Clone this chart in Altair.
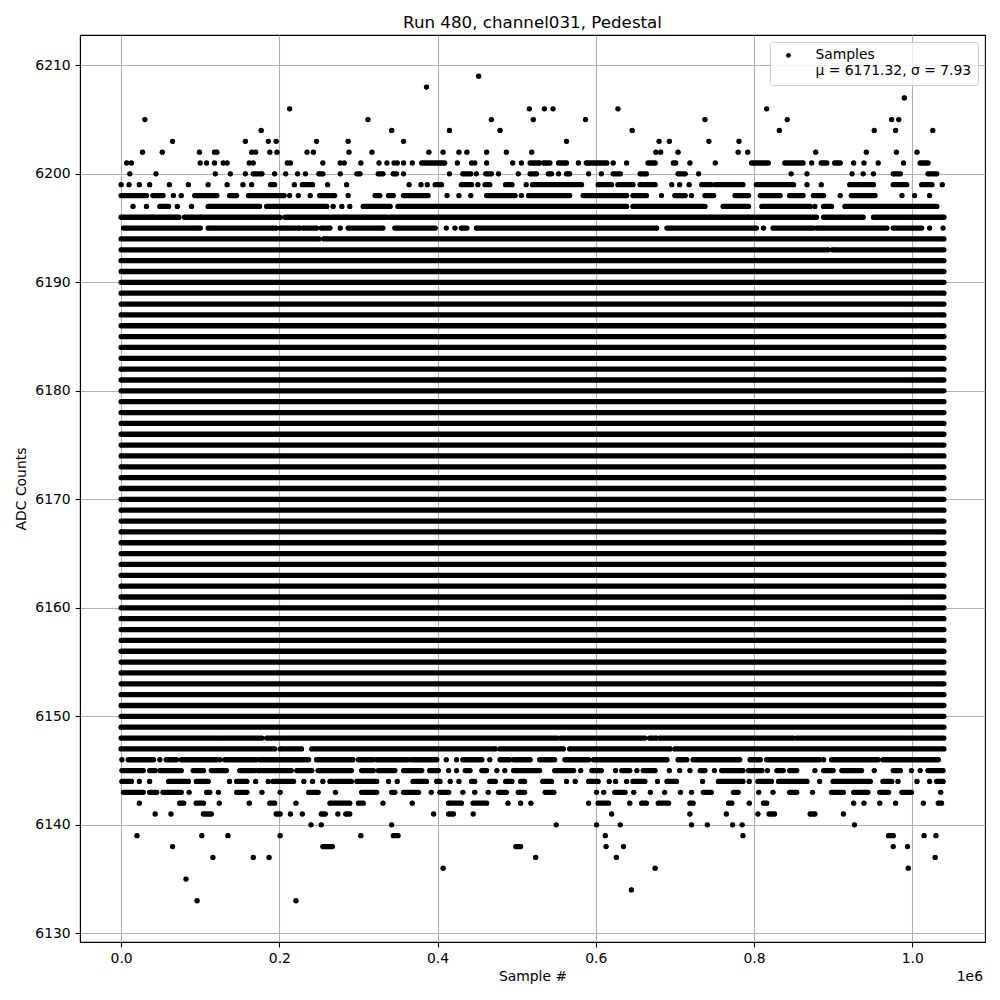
import altair as alt
import pandas as pd

TITLE = "Run 480, channel031, Pedestal"
X_TITLE = "Sample #"
Y_TITLE = "ADC Counts"
OFFSET_TEXT = "1e6"
LEGEND_NAME = "Samples"
LEGEND_STATS = "μ = 6171.32, σ = 7.93"
X_TICKS = [0.0, 0.2, 0.4, 0.6, 0.8, 1.0]
Y_TICKS = [6130, 6140, 6150, 6160, 6170, 6180, 6190, 6200, 6210]
X_DOMAIN = [-0.052, 1.092]
Y_DOMAIN = [6129.2, 6212.8]

# sample index range (thousands of samples)
RUN_START_K = 0
RUN_END_K = 1040

# ADC levels that are hit continuously over the whole run
SOLID_LEVELS = [6149, 6150, 6151, 6152, 6153, 6154, 6155, 6156, 6157, 6158,
                6159, 6160, 6161, 6162, 6163, 6164, 6165, 6166, 6167, 6168,
                6169, 6170, 6171, 6172, 6173, 6174, 6175, 6176, 6177, 6178,
                6179, 6180, 6181, 6182, 6183, 6184, 6185, 6186, 6187, 6188,
                6189, 6190, 6191, 6192]

# sparse levels: sample positions in thousands; (a, b) = continuous run of samples
L6209 = [452]
L6208 = [386]
L6207 = [990]
L6206 = [213, 516, 535, 546, 628, 816]
L6205 = [30, 312, 468, 521, 587, 738, 842, 974, 983]
L6204 = [177, 342, 415, 479, 646, 832, 952, 979, 1026]
L6203 = [65, 157, 186, 196, 247, 287, 357, 563, 680, 693, 743, 781]
L6202 = [27, 52, 99, 118, 121, 165, 170, 188, 197, 235, 243, 288, 317, 389, 407,
         427, 437, 462, 487, 519, 676, 682, 704, 780, 792, 878, 942, 980, 1006]
L6201 = [7, 13, 100, 108, 118, 129, 134, 162, 167, 210, 214, 255, 277, 282, 303,
         326, 336, 345, 349, 357, 368, (380, 409), 425, 443, 447, 462, 495, 506,
         (517, 529), (534, 542), (553, 563), 578, (588, 614), 622, 639, (666, 675),
         (698, 701), 719, 751, (797, 818), (839, 862), 873, (885, 892), (902, 909),
         926, 939, 957, 989, (1010, 1020)]
L6200 = [11, 44, 119, 138, 157, (167, 178), 194, 208, 223, 233, (250, 255), 277,
         (298, 302), (325, 331), (344, 348), 357, 415, (432, 442), 449, (461, 468),
         477, 502, (517, 525), (540, 544), 553, (563, 567), 591, 607, (622, 631),
         (656, 664), (704, 713), 730, 847, 867, 924, 938, 951, (976, 985), (1020, 1031)]
L6199 = [0, 10, 23, 36, 61, 85, 110, 134, 154, 165, (189, 194), 219, (229, 242),
         261, 285, 364, 379, 387, (397, 405), (430, 443), 451, (460, 466), (486, 494),
         512, (520, 582), (603, 620), (628, 647), (656, 675), 696, 706, 718,
         (734, 746), (751, 786), (803, 850), 867, 885, (921, 951), (976, 993),
         (1012, 1025), 1038]
L6198 = [(0, 32), (40, 53), 66, 76, (93, 121), (137, 146), (161, 206), 213, 224, 239,
         (251, 270), 287, (321, 327), (338, 344), (357, 388), 412, 427, 442,
         (462, 498), 506, (515, 567), (584, 639), (647, 664), 683, (700, 713), 721,
         (738, 749), (776, 793), (808, 833), (845, 862), (875, 888), 909,
         (923, 953), 987, 1003, 1022]
L6197 = [15, 32, (49, 60), 71, 89, (110, 175), (184, 260), 268, 279, 289, (306, 340),
         (350, 639), (647, 738), (761, 793), (810, 871), 877, (888, 898), (915, 1031)]
L6196 = [(0, 73), (80, 201), (207, 336), (340, 879), (888, 938), (951, 1040)]
L6195 = [(3, 100), (110, 196), (201, 226), (230, 247), (253, 264), 277, (287, 331),
         (346, 397), 411, 422, (430, 437), (449, 677), (690, 803), 812, (824, 875),
         (879, 968), (976, 1012), 1022, 1039]
L6194 = [(0, 250), (256, 1040)]
L6193 = [(0, 894), (899, 1040)]
L6148 = [(0, 127), (130, 178), (184, 551), (555, 662), (668, 677), (681, 850), (854, 1040)]
L6147 = [(0, 194), (201, 228), (241, 473), (479, 559), (567, 694), (700, 1040)]
L6146 = [1, (9, 41), 49, (57, 70), (76, 121), 125, (131, 171), (175, 237), (247, 293),
         (300, 319), (323, 363), (367, 399), 411, 424, (432, 456), 466, (479, 491),
         (496, 517), (529, 548), (561, 591), (597, 690), (704, 715), (723, 782),
         (795, 808), (816, 883), 888, (898, 957), (963, 1033)]
L6145 = [(1, 28), (36, 43), (49, 76), (91, 104), (114, 133), (150, 169), (173, 215),
         (222, 241), (249, 291), (304, 319), (325, 346), (357, 380), (390, 401), 414,
         424, (435, 441), (456, 462), 475, 485, (496, 529), (548, 572), 581,
         (595, 607), 625, (633, 643), 652, (660, 675), 693, 706, 719, (732, 738),
         750, (759, 786), (793, 810), 817, (829, 837), (845, 854), 877, (888, 900),
         (911, 936), 952, (976, 985), 999, 1010, (1020, 1039)]
L6144 = [(1, 13), 23, 36, (60, 85), (95, 110), 137, (146, 159), 170, 186, (192, 218),
         231, 242, 255, (264, 291), (298, 323), 338, 349, (369, 386), (399, 403), 416,
         427, (443, 447), (466, 473), (486, 494), (505, 510), (533, 544), 563, 574,
         (591, 603), 617, 625, 639, (647, 662), 678, (690, 702), 735, (755, 786), 794,
         (805, 822), (831, 867), 883, (900, 947), (963, 974), 982, 1006, 1022,
         (1031, 1039)]
L6143 = [(3, 28), (36, 45), (53, 76), 86, (108, 112), 123, (146, 159), 178, 201,
         (237, 249), 271, (304, 323), (342, 346), (357, 376), 392, (403, 414), 432,
         447, 464, (477, 487), (502, 510), (536, 547), 601, 610, (624, 637), 648, 669,
         687, 707, 721, (736, 746), (774, 780), 806, 824, (845, 854), 874, (898, 913),
         (926, 944), (959, 970), (987, 999), 1036]
L6142 = [23, (74, 79), (95, 104), 124, 162, (188, 194), 221, (264, 289), (300, 306),
         331, 368, (414, 430), (445, 462), 489, 505, 518, 591, (603, 616), 643,
         (658, 664), (679, 692), (719, 723), (768, 772), 794, (812, 816), 926, 939,
         959, 979, 1014, (1033, 1037)]
L6141 = [43, 63, (104, 114), (196, 201), 214, 229, (253, 258), 274, (284, 289), 395,
         (414, 420), 445, 620, 719, 765, 805, (819, 826), (871, 877), 913]
L6140 = [240, 253, 342, 550, 601, 631, 721, 741, 773, 785, 927]
L6139 = [20, 102, 135, 201, 303, (344, 350), 612, 786, (970, 976), 1015, 1030]
L6138 = [65, (255, 267), (499, 505), 613, 635, 976, 994]
L6137 = [116, 167, 187, 524, 626, 1029]
L6136 = [407, 675, 995]
L6135 = [82]
L6134 = [645]
L6133 = [96, 221]

SPARSE_LEVELS = [
    (6209, L6209), (6208, L6208), (6207, L6207), (6206, L6206), (6205, L6205),
    (6204, L6204), (6203, L6203), (6202, L6202), (6201, L6201), (6200, L6200),
    (6199, L6199), (6198, L6198), (6197, L6197), (6196, L6196), (6195, L6195),
    (6194, L6194), (6193, L6193), (6148, L6148), (6147, L6147), (6146, L6146),
    (6145, L6145), (6144, L6144), (6143, L6143), (6142, L6142), (6141, L6141),
    (6140, L6140), (6139, L6139), (6138, L6138), (6137, L6137), (6136, L6136),
    (6135, L6135), (6134, L6134), (6133, L6133),
]

rows = []
for lvl in SOLID_LEVELS:
    rows.append((lvl, RUN_START_K, RUN_END_K))
for lvl, items in SPARSE_LEVELS:
    for it in items:
        if isinstance(it, tuple):
            rows.append((lvl, it[0], it[1]))
        else:
            rows.append((lvl, it, it))

seg = pd.DataFrame(rows, columns=["level", "k0", "k1"])
seg["x0"] = seg["k0"] / 1000.0
seg["x1"] = seg["k1"] / 1000.0

ends = pd.concat([
    seg[["level", "x0"]].rename(columns={"x0": "x"}),
    seg[["level", "x1"]].rename(columns={"x1": "x"}),
]).drop_duplicates().reset_index(drop=True)
ends["series"] = LEGEND_NAME

FONT = "DejaVu Sans"

xs = alt.Scale(domain=X_DOMAIN, nice=False, zero=False)
ys = alt.Scale(domain=Y_DOMAIN, nice=False, zero=False)

x_axis = alt.Axis(values=X_TICKS, format=".1f", title=X_TITLE, grid=True,
                  titlePadding=4)
y_axis = alt.Axis(values=Y_TICKS, format="d", title=Y_TITLE, grid=True,
                  titlePadding=6)

rules = alt.Chart(seg).mark_rule(
    strokeWidth=5.3, strokeCap="round", color="black"
).encode(
    x=alt.X("x0:Q", scale=xs, axis=x_axis),
    x2="x1:Q",
    y=alt.Y("level:Q", scale=ys, axis=y_axis),
)

legend_expr = "['" + LEGEND_NAME + "', '" + LEGEND_STATS + "']"

dots = alt.Chart(ends).mark_circle(size=22, opacity=1).encode(
    x=alt.X("x:Q", scale=xs),
    y=alt.Y("level:Q", scale=ys),
    color=alt.Color(
        "series:N",
        scale=alt.Scale(range=["black"]),
        legend=alt.Legend(
            title=None,
            orient="top-right",
            offset=7,
            padding=6.5,
            fillColor="rgba(255,255,255,0.8)",
            strokeColor="#cccccc",
            cornerRadius=3,
            symbolType="circle",
            symbolSize=22,
            symbolOffset=5,
            labelOffset=20,
            labelFont=FONT,
            labelFontSize=13.9,
            labelColor="black",
            labelLimit=400,
            labelExpr=legend_expr,
        ),
    ),
)

offset_text = alt.Chart(pd.DataFrame({"t": [OFFSET_TEXT]})).mark_text(
    align="right", baseline="alphabetic", font=FONT, fontSize=13.9, color="black"
).encode(
    x=alt.value(903),
    y=alt.value(945.5),
    text="t:N",
)

chart = alt.layer(rules, dots, offset_text).properties(
    width=905,
    height=907,
    title=alt.TitleParams(
        TITLE, font=FONT, fontSize=16.7, fontWeight="normal", color="black",
        anchor="middle", frame="group", baseline="alphabetic", offset=8, dy=18,
    ),
    padding={"left": 72, "top": 27, "right": 5, "bottom": 44},
    autosize=alt.AutoSizeParams(type="none"),
).configure_view(
    stroke="black", strokeWidth=1.1
).configure_axis(
    labelFont=FONT, labelFontSize=13.9, labelColor="black", labelPadding=4.9,
    tickColor="black", tickSize=4.9, tickWidth=1.1,
    domainColor="black", domainWidth=1.1,
    gridColor="#b0b0b0", gridWidth=1.1,
    titleFont=FONT, titleFontSize=13.9, titleFontWeight="normal", titleColor="black",
)

chart.save("out.html", embed_options={"renderer": "svg", "actions": False})
